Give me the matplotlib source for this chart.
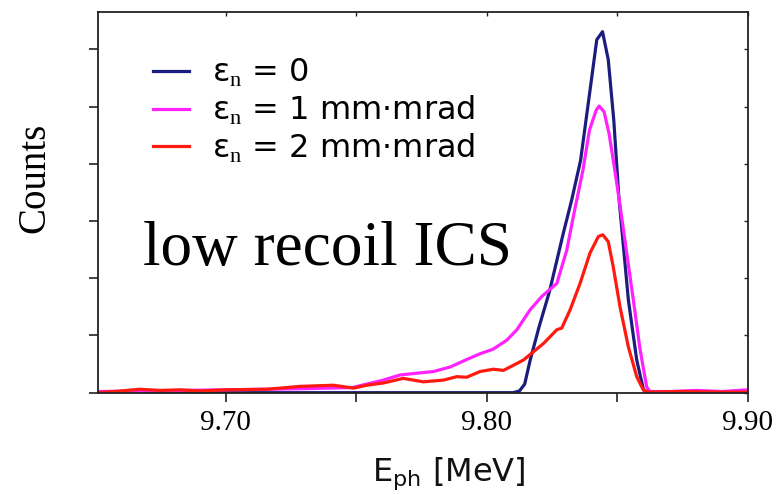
import matplotlib
matplotlib.use("Agg")
import matplotlib.pyplot as plt
from matplotlib.ticker import MultipleLocator, FuncFormatter

plt.rcParams['mathtext.fontset'] = 'custom'
plt.rcParams['mathtext.rm'] = 'Liberation Serif'
plt.rcParams['mathtext.sf'] = 'DejaVu Sans'

# Photon energy spectra for three normalized emittances
e0_x = [9.651, 9.810, 9.8125, 9.8145, 9.8166, 9.8200, 9.8240, 9.8293, 9.8325, 9.8359,
        9.8397, 9.8421, 9.8443, 9.8465, 9.8486, 9.8505, 9.8542, 9.8574, 9.8600, 9.8615, 9.900]
e0_y = [0.0, 0.0, 0.03, 0.15, 0.57, 1.15, 1.77, 2.79, 3.37, 4.06,
        5.35, 6.17, 6.31, 5.82, 4.77, 3.45, 1.62, 0.57, 0.05, 0.0, 0.0]

e1_x = [9.651, 9.670, 9.700, 9.730, 9.7485, 9.7604, 9.7668, 9.7796, 9.786, 9.7923,
        9.7974, 9.8024, 9.8077, 9.8115, 9.8166, 9.821, 9.8268, 9.8306, 9.833, 9.8368,
        9.8393, 9.8419, 9.843, 9.8449, 9.8468, 9.8488, 9.8507, 9.8561, 9.8587, 9.8612,
        9.8625, 9.870, 9.880, 9.890, 9.900]
e1_y = [0.02, 0.03, 0.05, 0.07, 0.09, 0.22, 0.31, 0.37, 0.45, 0.58,
        0.68, 0.76, 0.92, 1.10, 1.45, 1.68, 1.91, 2.49, 3.05, 3.89,
        4.59, 4.94, 5.01, 4.91, 4.53, 3.95, 3.37, 1.62, 0.75, 0.10,
        0.02, 0.02, 0.04, 0.02, 0.05]

e2_x = [9.651, 9.660, 9.667, 9.675, 9.6826, 9.690, 9.700, 9.7157, 9.7285, 9.7412,
        9.749, 9.754, 9.7604, 9.768, 9.7757, 9.7834, 9.7885, 9.7923, 9.7974, 9.8025,
        9.8064, 9.8102, 9.8140, 9.8217, 9.8268, 9.8287, 9.8319, 9.8357, 9.8395, 9.8427,
        9.8444, 9.8465, 9.8484, 9.8510, 9.8542, 9.8574, 9.8599, 9.862, 9.875, 9.890, 9.900]
e2_y = [0.0, 0.03, 0.06, 0.04, 0.05, 0.03, 0.05, 0.06, 0.11, 0.13,
        0.08, 0.13, 0.17, 0.25, 0.19, 0.22, 0.28, 0.27, 0.37, 0.41,
        0.39, 0.48, 0.57, 0.86, 1.10, 1.13, 1.45, 1.91, 2.44, 2.73,
        2.76, 2.64, 2.20, 1.50, 0.80, 0.28, 0.05, 0.01, 0.02, 0.01, 0.01]

labels = [r'ε$_{\rm n}$ = 0', r'ε$_{\rm n}$ = 1 mm·mrad', r'ε$_{\rm n}$ = 2 mm·mrad']
colors = ['#1c1c7e', '#ff22ff', '#ff1a10']
x_ticks = [9.70, 9.80, 9.90]

fig = plt.figure(figsize=(7.76, 4.95), dpi=100)
ax = fig.add_axes([0.1259, 0.2067, 0.9639 - 0.1259, 0.9764 - 0.2067])

for xs, ys, lab, c in zip([e0_x, e1_x, e2_x], [e0_y, e1_y, e2_y], labels, colors):
    ax.plot(xs, ys, color=c, lw=2.3, label=lab, solid_joinstyle='round')

ax.set_xlim(9.651, 9.900)
ax.set_ylim(0, 6.66)

ax.xaxis.set_major_locator(MultipleLocator(0.05))
ax.xaxis.set_major_formatter(FuncFormatter(
    lambda v, p: f'{v:.2f}' if any(abs(v - t) < 1e-6 for t in x_ticks) else ''))
ax.yaxis.set_major_locator(MultipleLocator(1))
ax.set_yticklabels([])

ax.tick_params(axis='both', which='major', direction='out', length=6.5, width=1.2,
               color='#222222')
ax.tick_params(axis='x', labelsize=21, pad=6)
for lab in ax.get_xticklabels():
    lab.set_fontfamily('Liberation Serif')

# inward ticks mirrored on the top and right spines
axt = ax.secondary_xaxis('top')
axt.xaxis.set_major_locator(MultipleLocator(0.05))
axt.tick_params(direction='in', length=3, width=1.0, color='#222222', labeltop=False)
axt.spines['top'].set_visible(False)
axr = ax.secondary_yaxis('right')
axr.yaxis.set_major_locator(MultipleLocator(1))
axr.tick_params(direction='in', length=3, width=1.0, color='#222222', labelright=False)
axr.spines['right'].set_visible(False)

for s in ax.spines.values():
    s.set_linewidth(1.3)
    s.set_color('#222222')

ax.set_ylabel('Counts', family='Liberation Serif', fontsize=28)
ax.yaxis.set_label_coords(-0.068, 0.565)
ax.set_xlabel(r'E$_{\mathsf{ph}}$ [MeV]', family='DejaVu Sans', fontsize=23,
              color='#111111')
ax.xaxis.set_label_coords(0.54, -0.165)

ax.text(0.069, 0.335, 'low recoil ICS', transform=ax.transAxes,
        family='Liberation Serif', fontsize=45.5, color='black', va='baseline')

leg = ax.legend(loc='upper left', bbox_to_anchor=(0.065, 0.915), frameon=False,
                prop={'family': 'DejaVu Sans', 'size': 23}, handlelength=1.15,
                handletextpad=0.7, labelspacing=0.14, borderaxespad=0)

fig.savefig('out.png', dpi=100)
